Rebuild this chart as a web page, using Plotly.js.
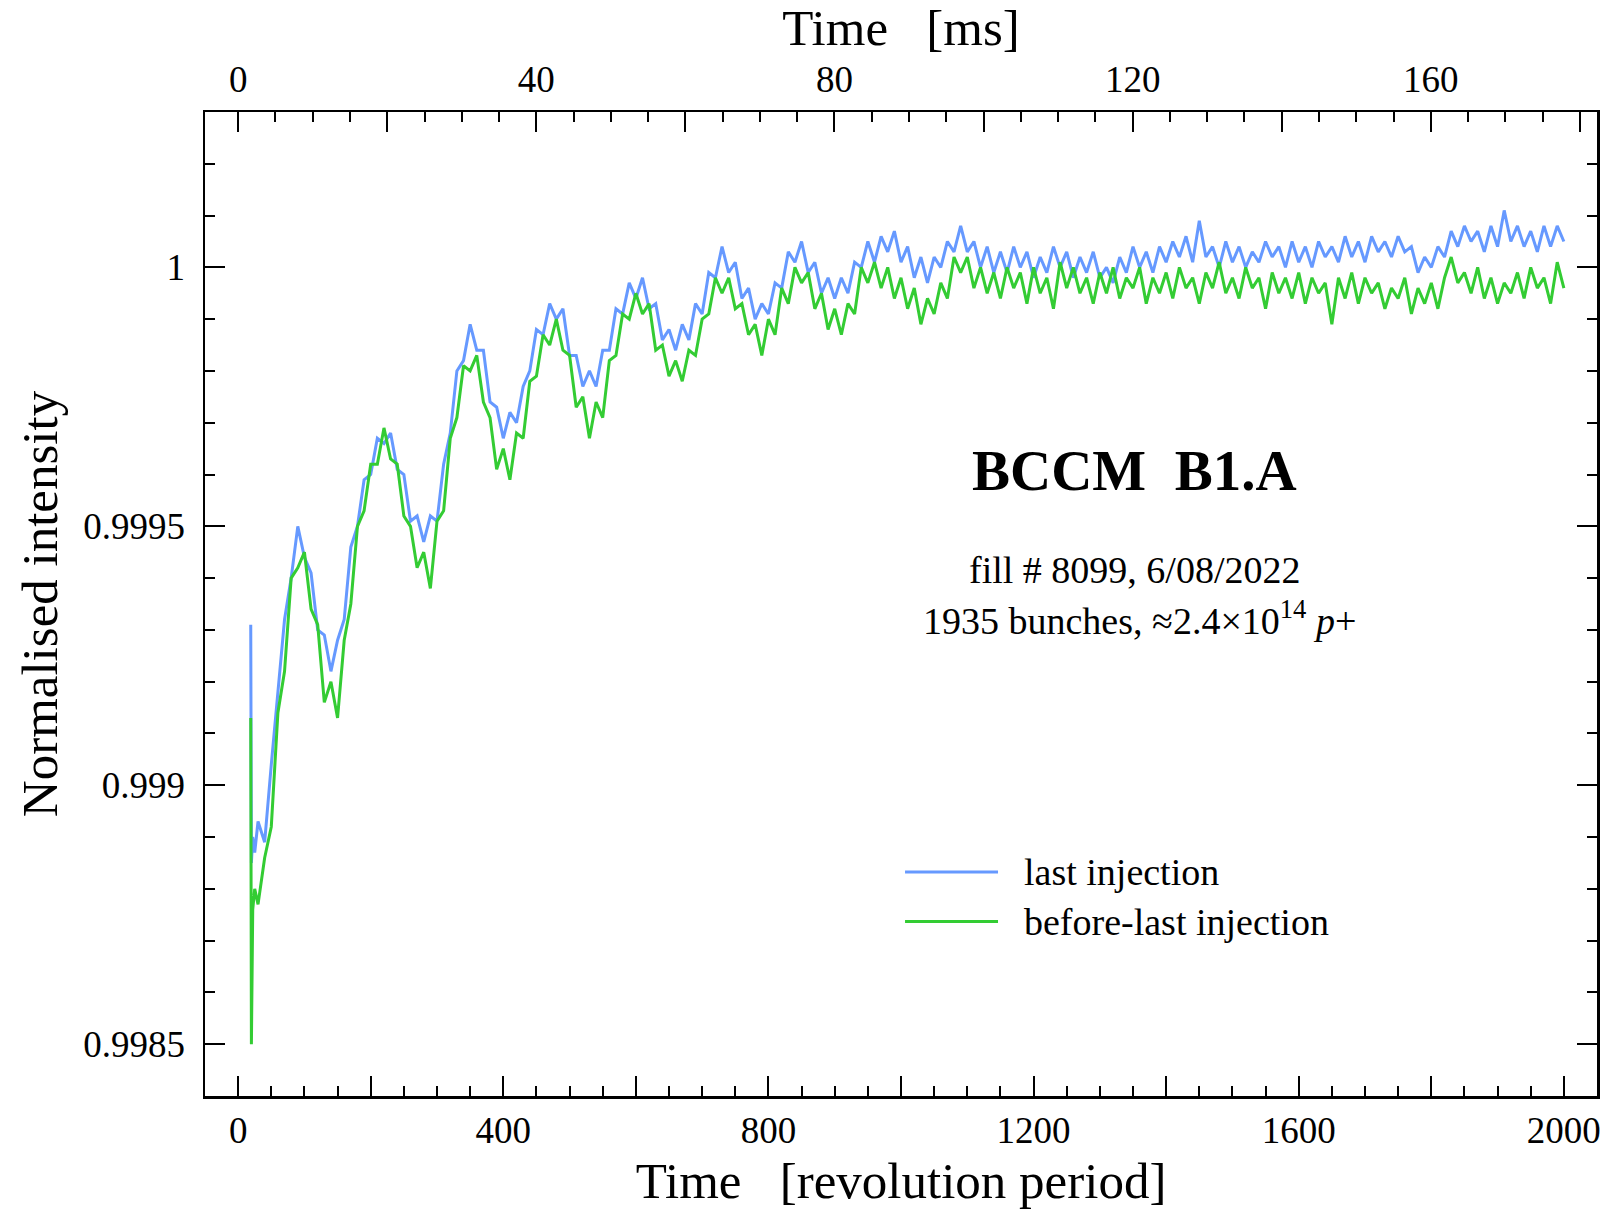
<!DOCTYPE html>
<html>
<head>
<meta charset="utf-8">
<script src="https://cdn.plot.ly/plotly-3.0.1.min.js"></script>
<style>html,body{margin:0;padding:0;background:#fff;}#chart{width:1609px;height:1209px;}</style>
</head>
<body>
<div id="chart"></div>
<script>
// Time in revolution periods
const revolutions = [19,20,22,25,30,40,50,60,70,80,90,100,110,120,130,140,150,160,170,180,190,200,210,220,230,240,250,260,270,280,290,300,310,320,330,340,350,360,370,380,390,400,410,420,430,440,450,460,470,480,490,500,510,520,530,540,550,560,570,580,590,600,610,620,630,640,650,660,670,680,690,700,710,720,730,740,750,760,770,780,790,800,810,820,830,840,850,860,870,880,890,900,910,920,930,940,950,960,970,980,990,1000,1010,1020,1030,1040,1050,1060,1070,1080,1090,1100,1110,1120,1130,1140,1150,1160,1170,1180,1190,1200,1210,1220,1230,1240,1250,1260,1270,1280,1290,1300,1310,1320,1330,1340,1350,1360,1370,1380,1390,1400,1410,1420,1430,1440,1450,1460,1470,1480,1490,1500,1510,1520,1530,1540,1550,1560,1570,1580,1590,1600,1610,1620,1630,1640,1650,1660,1670,1680,1690,1700,1710,1720,1730,1740,1750,1760,1770,1780,1790,1800,1810,1820,1830,1840,1850,1860,1870,1880,1890,1900,1910,1920,1930,1940,1950,1960,1970,1980,1990,2000];

// Normalised intensity, last injection (blue)
const lastInjection = [0.99931,0.99885,0.99890,0.99887,0.99893,0.99889,0.99904,0.99918,0.99932,0.99940,0.99950,0.99944,0.99941,0.99930,0.99929,0.99922,0.99928,0.99932,0.99946,0.99950,0.99959,0.99960,0.99967,0.99966,0.99968,0.99961,0.99960,0.99951,0.99952,0.99947,0.99952,0.99951,0.99962,0.99968,0.99980,0.99982,0.99989,0.99984,0.99984,0.99974,0.99973,0.99967,0.99972,0.99970,0.99977,0.99980,0.99988,0.99987,0.99993,0.99990,0.99992,0.99983,0.99983,0.99977,0.99980,0.99977,0.99984,0.99984,0.99992,0.99991,0.99997,0.99994,0.99998,0.99992,0.99993,0.99986,0.99988,0.99984,0.99989,0.99986,0.99993,0.99991,0.99999,0.99998,1.00004,0.99999,1.00001,0.99994,0.99996,0.99990,0.99993,0.99991,0.99997,0.99996,1.00003,1.00001,1.00005,0.99999,1.00001,0.99995,0.99998,0.99994,0.99998,0.99995,1.00001,1.00000,1.00005,1.00001,1.00006,1.00003,1.00007,1.00001,1.00004,0.99998,1.00002,0.99997,1.00002,1.00000,1.00005,1.00003,1.00008,1.00003,1.00005,1.00000,1.00004,0.99999,1.00003,0.99999,1.00004,1.00000,1.00003,0.99998,1.00002,0.99999,1.00004,1.00000,1.00003,0.99998,1.00002,0.99999,1.00003,0.99998,1.00000,0.99997,1.00002,0.99999,1.00004,1.00000,1.00003,0.99999,1.00004,1.00001,1.00005,1.00002,1.00006,1.00001,1.00009,1.00002,1.00004,1.00000,1.00005,1.00001,1.00004,1.00000,1.00003,1.00001,1.00005,1.00002,1.00004,1.00000,1.00005,1.00001,1.00004,1.00000,1.00005,1.00002,1.00004,1.00001,1.00006,1.00002,1.00005,1.00001,1.00006,1.00003,1.00005,1.00002,1.00006,1.00003,1.00004,0.99999,1.00002,1.00000,1.00004,1.00002,1.00007,1.00004,1.00008,1.00005,1.00007,1.00003,1.00008,1.00004,1.00011,1.00005,1.00008,1.00004,1.00007,1.00003,1.00008,1.00004,1.00008,1.00005];

// Normalised intensity, before-last injection (green)
const beforeLastInjection = [0.99913,0.99850,0.99876,0.99880,0.99877,0.99886,0.99892,0.99914,0.99922,0.99940,0.99942,0.99945,0.99934,0.99931,0.99916,0.99920,0.99913,0.99928,0.99935,0.99950,0.99953,0.99962,0.99962,0.99969,0.99963,0.99962,0.99952,0.99950,0.99942,0.99945,0.99938,0.99951,0.99953,0.99967,0.99971,0.99981,0.99980,0.99983,0.99974,0.99971,0.99961,0.99965,0.99959,0.99968,0.99967,0.99978,0.99979,0.99987,0.99985,0.99990,0.99984,0.99983,0.99973,0.99975,0.99967,0.99974,0.99971,0.99982,0.99983,0.99991,0.99990,0.99995,0.99991,0.99993,0.99984,0.99985,0.99979,0.99982,0.99978,0.99984,0.99983,0.99990,0.99991,0.99998,0.99995,0.99998,0.99992,0.99993,0.99987,0.99989,0.99983,0.99990,0.99987,0.99996,0.99993,1.00000,0.99997,0.99999,0.99992,0.99995,0.99988,0.99992,0.99987,0.99993,0.99991,1.00000,0.99997,1.00001,0.99996,1.00000,0.99994,0.99998,0.99992,0.99996,0.99989,0.99994,0.99991,0.99997,0.99994,1.00002,0.99999,1.00002,0.99996,1.00000,0.99995,0.99999,0.99994,1.00000,0.99996,0.99999,0.99993,1.00000,0.99995,0.99998,0.99992,1.00001,0.99996,1.00000,0.99995,0.99998,0.99993,0.99999,0.99995,1.00000,0.99994,0.99998,0.99996,1.00000,0.99993,0.99998,0.99995,0.99999,0.99994,1.00000,0.99996,0.99998,0.99993,0.99999,0.99996,1.00001,0.99995,0.99998,0.99994,1.00000,0.99996,0.99998,0.99992,0.99999,0.99995,0.99998,0.99994,0.99999,0.99993,0.99998,0.99995,0.99997,0.99989,0.99998,0.99994,0.99999,0.99993,0.99998,0.99995,0.99997,0.99992,0.99996,0.99994,0.99998,0.99991,0.99996,0.99993,0.99997,0.99992,0.99998,1.00002,0.99997,0.99999,0.99995,1.00000,0.99994,0.99998,0.99993,0.99997,0.99995,0.99999,0.99994,1.00000,0.99996,0.99998,0.99993,1.00001,0.99996];

// Axis ticks: labelled majors, unlabelled majors
const revTickVals = [0,400,800,1200,1600,2000];
const revExtraTickVals = [200,600,1000,1400,1800];
const msTickVals = [0,40,80,120,160];
const msExtraTickVals = [20,60,100,140,180];
const intensityTickVals = [0.9985,0.999,0.9995,1];
const intensityTickText = ['0.9985','0.999','0.9995','1'];

const seriesNames = ['last injection','before-last injection'];
const seriesColors = ['#6699ff','#33cc33'];

const FONT = 'Liberation Serif, Times New Roman, serif';
const NB = '\u00a0';
const REV_RANGE = [-50, 2050];
const MS_RANGE = [-4.446, 182.29];

const traces = [
  {x: revolutions, y: lastInjection, type: 'scatter', mode: 'lines', name: seriesNames[0],
   line: {color: seriesColors[0], width: 3}, showlegend: false},
  {x: revolutions, y: beforeLastInjection, type: 'scatter', mode: 'lines', name: seriesNames[1],
   line: {color: seriesColors[1], width: 3}, showlegend: false},
  {x: [], y: [], xaxis: 'x2', yaxis: 'y', type: 'scatter', mode: 'lines', showlegend: false, hoverinfo: 'skip'},
  {x: [], y: [], xaxis: 'x3', yaxis: 'y', type: 'scatter', mode: 'lines', showlegend: false, hoverinfo: 'skip'},
  {x: [], y: [], xaxis: 'x4', yaxis: 'y', type: 'scatter', mode: 'lines', showlegend: false, hoverinfo: 'skip'}
];

const tickCommon = {
  ticks: 'inside', ticklen: 20, tickwidth: 2, tickcolor: '#000',
  showline: true, linewidth: 2.5, linecolor: '#000',
  showgrid: false, zeroline: false,
  tickfont: {family: FONT, size: 37, color: '#000'}
};
const extraTicks = {
  ticks: 'inside', ticklen: 20, tickwidth: 2, tickcolor: '#000',
  showline: false, showgrid: false, zeroline: false, showticklabels: false
};

const layout = {
  width: 1609, height: 1209,
  margin: {l: 205, r: 12, t: 112, b: 113},
  paper_bgcolor: '#fff', plot_bgcolor: '#fff',
  font: {family: FONT, color: '#000'},
  showlegend: false,
  xaxis: Object.assign({}, tickCommon, {
    range: REV_RANGE, tickmode: 'array', tickvals: revTickVals,
    minor: {tickmode: 'linear', tick0: 0, dtick: 50, ticks: 'inside', ticklen: 10, tickwidth: 2, tickcolor: '#000'},
    mirror: false,
    title: {text: 'Time' + NB + NB + NB + '[revolution period]', font: {family: FONT, size: 51, color: '#000'}, standoff: 18}
  }),
  xaxis2: Object.assign({}, tickCommon, {
    overlaying: 'x', side: 'top', anchor: 'y',
    range: MS_RANGE, tickmode: 'array', tickvals: msTickVals,
    ticklabelstandoff: 3,
    minor: {tickmode: 'linear', tick0: 0, dtick: 5, ticks: 'inside', ticklen: 10, tickwidth: 2, tickcolor: '#000'},
    title: {text: 'Time' + NB + NB + NB + '[ms]', font: {family: FONT, size: 51, color: '#000'}, standoff: 12}
  }),
  xaxis3: Object.assign({}, extraTicks, {
    overlaying: 'x', side: 'bottom', anchor: 'y', range: REV_RANGE, tickmode: 'array', tickvals: revExtraTickVals
  }),
  xaxis4: Object.assign({}, extraTicks, {
    overlaying: 'x', side: 'top', anchor: 'y', range: MS_RANGE, tickmode: 'array', tickvals: msExtraTickVals
  }),
  yaxis: Object.assign({}, tickCommon, {
    range: [0.9984, 1.0003], tickmode: 'array', tickvals: intensityTickVals, ticktext: intensityTickText,
    ticklabelstandoff: 10,
    minor: {tickmode: 'linear', tick0: 0.9984, dtick: 0.0001, ticks: 'inside', ticklen: 10, tickwidth: 2, tickcolor: '#000'},
    mirror: 'ticks',
    title: {text: 'Normalised intensity', font: {family: FONT, size: 51, color: '#000'}, standoff: 10}
  }),
  annotations: [
    {xref: 'paper', yref: 'paper', x: 0.6674, y: 0.636, xanchor: 'center', yanchor: 'middle', showarrow: false,
     text: '<b>BCCM' + NB + NB + 'B1.A</b>', font: {family: FONT, size: 57, color: '#000'}},
    {xref: 'paper', yref: 'paper', x: 0.6674, y: 0.5344, xanchor: 'center', yanchor: 'middle', showarrow: false,
     text: 'fill # 8099, 6/08/2022', font: {family: FONT, size: 38, color: '#000'}},
    {xref: 'paper', yref: 'paper', x: 0.671, y: 0.4857, xanchor: 'center', yanchor: 'middle', showarrow: false,
     text: '1935 bunches, \u22482.4\u00d710<sup>14</sup> <i>p</i>+', font: {family: FONT, size: 38, color: '#000'}},
    {xref: 'paper', yref: 'paper', x: 0.5866, y: 0.2276, xanchor: 'left', yanchor: 'middle', showarrow: false,
     text: seriesNames[0], font: {family: FONT, size: 38, color: '#000'}},
    {xref: 'paper', yref: 'paper', x: 0.5866, y: 0.1773, xanchor: 'left', yanchor: 'middle', showarrow: false,
     text: seriesNames[1], font: {family: FONT, size: 38, color: '#000'}}
  ],
  shapes: [
    {type: 'line', xref: 'paper', yref: 'paper', x0: 0.5029, x1: 0.5697, y0: 0.2276, y1: 0.2276,
     line: {color: seriesColors[0], width: 3}},
    {type: 'line', xref: 'paper', yref: 'paper', x0: 0.5029, x1: 0.5697, y0: 0.1773, y1: 0.1773,
     line: {color: seriesColors[1], width: 3}}
  ]
};

Plotly.newPlot('chart', traces, layout, {displayModeBar: false, staticPlot: true});
</script>
</body>
</html>
